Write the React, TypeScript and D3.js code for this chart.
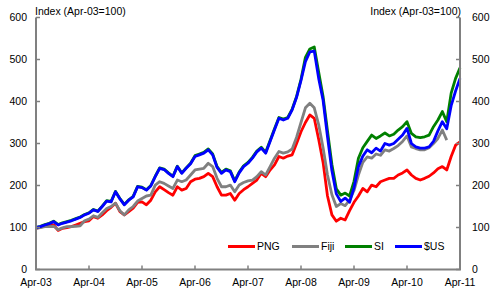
import React from "react";
import * as d3 from "d3";

const xLabels = ["Apr-03", "Apr-04", "Apr-05", "Apr-06", "Apr-07", "Apr-08", "Apr-09", "Apr-10", "Apr-11"];
const yTicks = [0, 100, 200, 300, 400, 500, 600];

const png = [98, 101, 103, 104, 106, 93, 98, 100, 102, 106, 110, 114, 116, 126, 122, 130, 140, 148, 158, 138, 130, 138, 146, 160, 161, 154, 165, 185, 197, 190, 183, 177, 197, 189, 193, 209, 215, 217, 221, 229, 221, 197, 177, 177, 181, 165, 181, 190, 197, 205, 213, 229, 221, 237, 249, 269, 265, 270, 273, 300, 328, 350, 368, 360, 310, 255, 175, 130, 115, 122, 118, 140, 160, 175, 193, 185, 201, 197, 209, 213, 217, 217, 225, 230, 237, 225, 217, 213, 217, 222, 230, 240, 245, 237, 269, 296, 304];
const fiji: (number | null)[] = [98, 100, 102, 102, 103, 95, 99, 102, 102, 103, 104, 116, 120, 128, 124, 135, 145, 150, 158, 140, 130, 142, 150, 163, 169, 175, 177, 201, 209, 205, 199, 193, 213, 209, 213, 225, 237, 239, 241, 253, 245, 217, 197, 197, 201, 185, 201, 207, 211, 213, 221, 233, 225, 245, 265, 281, 277, 280, 287, 315, 350, 385, 396, 385, 345, 290, 225, 178, 150, 157, 152, 165, 188, 225, 255, 268, 265, 275, 272, 285, 282, 288, 295, 305, 318, 292, 288, 285, 285, 290, 300, 312, 332, 308, null, null, null];
const si = [100, 103, 107, 110, 115, 107, 111, 114, 117, 121, 125, 131, 135, 143, 139, 151, 164, 162, 186, 169, 155, 166, 174, 198, 196, 190, 200, 222, 242, 239, 230, 222, 246, 230, 242, 253, 271, 275, 279, 287, 275, 245, 231, 239, 235, 211, 232, 247, 255, 267, 282, 291, 279, 307, 335, 362, 358, 362, 382, 412, 453, 505, 525, 530, 470, 412, 330, 250, 192, 177, 182, 175, 210, 265, 290, 305, 320, 312, 318, 325, 318, 322, 332, 340, 352, 324, 316, 314, 316, 320, 340, 356, 376, 352, 420, 455, 480];
const usd = [100, 102, 106, 109, 114, 106, 110, 113, 116, 120, 124, 130, 134, 142, 138, 150, 163, 161, 185, 168, 154, 165, 173, 197, 195, 189, 199, 221, 241, 238, 229, 221, 245, 229, 241, 252, 269, 273, 277, 285, 273, 243, 229, 237, 233, 209, 230, 245, 253, 265, 280, 289, 277, 305, 333, 360, 356, 360, 380, 410, 450, 495, 518, 520, 455, 403, 316, 235, 180, 162, 170, 160, 195, 245, 270, 285, 278, 289, 282, 300, 296, 300, 310, 320, 336, 300, 292, 289, 289, 292, 305, 330, 352, 335, 390, 425, 455];

const seriesNames = ["PNG", "Fiji", "SI", "$US"];
const seriesColors = ["#ff0000", "#808080", "#008000", "#0000ff"];
const seriesData = [png, fiji, si, usd];

const W = 490;
const H = 301;
const FONT = "'Liberation Sans', Arial, sans-serif";

export default function App() {
  const x = d3.scaleLinear().domain([0, 96]).range([36, 460]);
  const y = d3.scaleLinear().domain([0, 600]).range([269.5, 17.5]);
  const line = d3
    .line<number | null>()
    .defined((d) => d !== null)
    .x((_, i) => x(i))
    .y((d) => y(d as number));

  const axisColor = "#808080";
  const legendX = [228, 292, 345, 395];

  return (
    <svg width={W} height={H} style={{ position: "absolute", left: 0, top: 0, background: "#fff" }} fontFamily={FONT}>
      {seriesData.map((s, i) => (
        <path key={i} d={line(s as (number | null)[]) || ""} fill="none" stroke={seriesColors[i]} strokeWidth={2.8} strokeLinejoin="round" />
      ))}
      <line x1={x(0)} x2={x(0)} y1={y(600)} y2={y(0)} stroke={axisColor} strokeWidth={2} />
      <line x1={x(96)} x2={x(96)} y1={y(600)} y2={y(0)} stroke={axisColor} strokeWidth={2} />
      <line x1={x(0) - 1} x2={x(96) + 1} y1={y(0)} y2={y(0)} stroke={axisColor} strokeWidth={2} />
      {yTicks.map((t) => (
        <g key={t}>
          <line x1={x(0)} x2={x(0) + 4} y1={y(t)} y2={y(t)} stroke={axisColor} strokeWidth={1.5} />
          <line x1={x(96) - 4} x2={x(96)} y1={y(t)} y2={y(t)} stroke={axisColor} strokeWidth={1.5} />
          <text x={27} y={y(t)} dy="0.36em" textAnchor="end" fontSize={10.5} fill="#000">{t}</text>
          <text x={472} y={y(t)} dy="0.36em" textAnchor="start" fontSize={10.5} fill="#000">{t}</text>
        </g>
      ))}
      {xLabels.map((l, i) => (
        <g key={l}>
          <line x1={x(i * 12)} x2={x(i * 12)} y1={y(0)} y2={y(0) - 4} stroke={axisColor} strokeWidth={1.5} />
          <text x={x(i * 12)} y={285.5} textAnchor="middle" fontSize={10.5} fill="#000">{l}</text>
        </g>
      ))}
      <text x={35} y={15} fontSize={10.5} fill="#000">Index (Apr-03=100)</text>
      <text x={461} y={15} textAnchor="end" fontSize={10.5} fill="#000">Index (Apr-03=100)</text>
      {seriesNames.map((n, i) => (
        <g key={n}>
          <line x1={legendX[i]} x2={legendX[i] + 27} y1={246.5} y2={246.5} stroke={seriesColors[i]} strokeWidth={3} />
          <text x={legendX[i] + 29} y={246.5} dy="0.36em" fontSize={10.5} fill="#000">{n}</text>
        </g>
      ))}
    </svg>
  );
}
